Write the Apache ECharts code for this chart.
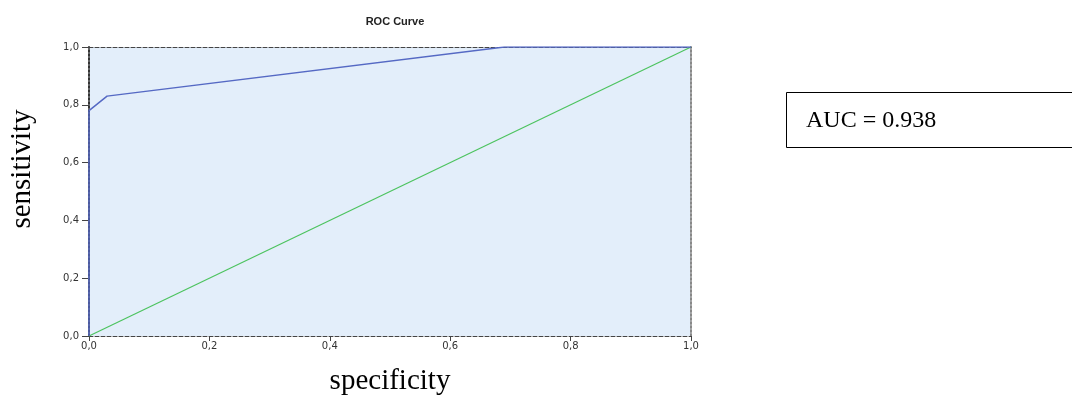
<!DOCTYPE html>
<html><head><meta charset="utf-8">
<script src="https://cdn.jsdelivr.net/npm/echarts@6/dist/echarts.min.js"></script>
<style>html,body{margin:0;padding:0;background:#fff}#c{width:1072px;height:402px}</style>
</head><body><div id="c"></div>
<script>
const rocX = [0, 0, 0.03, 0.69, 1];
const rocY = [0, 0.78, 0.83, 1, 1];
const refX = [0, 1];
const refY = [0, 1];
const tickLabels = ['0,0', '0,2', '0,4', '0,6', '0,8', '1,0'];
const aucText = 'AUC = 0.938';
const xTitle = 'specificity';
const yTitle = 'sensitivity';

const fmt = v => tickLabels[Math.round(v * 5)] || v.toFixed(1).replace('.', ',');
const chart = echarts.init(document.getElementById('c'), null, {renderer: 'canvas'});
const lblStyle = {color: '#333', fontFamily: 'DejaVu Sans, Arial', fontSize: 10};
chart.setOption({
  animation: false,
  title: {text: 'ROC Curve', left: 390, top: 11, textAlign: 'center',
    textStyle: {fontFamily: 'Liberation Sans, Arial', fontWeight: 'bold', fontSize: 11, color: '#222'}},
  grid: {left: 89, right: 381, top: 47, bottom: 66, show: true, backgroundColor: '#e3eefa', borderWidth: 0,
    containLabel: false, outerBoundsMode: 'none'},
  xAxis: [
    {type: 'value', min: 0, max: 1, interval: 0.2, position: 'bottom',
     name: xTitle, nameLocation: 'middle', nameGap: 31,
     nameTextStyle: {fontFamily: 'Liberation Serif, Times New Roman', fontSize: 29, color: '#000'},
     axisLine: {show: true, lineStyle: {color: '#444', type: 'dashed', width: 1}},
     axisTick: {show: true, length: 5, lineStyle: {color: '#444'}},
     axisLabel: Object.assign({margin: 5, formatter: fmt}, lblStyle),
     splitLine: {show: false}},
    {type: 'value', min: 0, max: 1, interval: 0.2, position: 'top',
     axisLine: {show: true, onZero: false, lineStyle: {color: '#444', type: 'dashed', width: 1}},
     axisTick: {show: false}, axisLabel: {show: false}, splitLine: {show: false}}
  ],
  yAxis: [
    {type: 'value', min: 0, max: 1, interval: 0.2, position: 'left',
     axisLine: {show: true, lineStyle: {color: '#333', type: 'dotted', width: 2}},
     axisTick: {show: true, length: 7, lineStyle: {color: '#444'}},
     axisLabel: Object.assign({margin: 10, formatter: fmt}, lblStyle),
     splitLine: {show: false}},
    {type: 'value', min: 0, max: 1, interval: 0.2, position: 'right',
     axisLine: {show: true, onZero: false, lineStyle: {color: '#888', type: 'dotted', width: 2}},
     axisTick: {show: false}, axisLabel: {show: false}, splitLine: {show: false}}
  ],
  series: [
    {type: 'line', data: refX.map((x, i) => [x, refY[i]]), symbol: 'none',
     lineStyle: {color: '#4cc35e', width: 1.2}, z: 3},
    {type: 'line', data: rocX.map((x, i) => [x, rocY[i]]), symbol: 'none',
     lineStyle: {color: '#5569c4', width: 1.5}, z: 4}
  ],
  graphic: [
    {type: 'text', x: 22, y: 169, rotation: Math.PI / 2,
     style: {text: yTitle, fontFamily: 'Liberation Serif, Times New Roman', fontSize: 29, fill: '#000',
       align: 'center', verticalAlign: 'middle'}},
    {type: 'rect', shape: {x: 786.5, y: 92.5, width: 320, height: 55},
     style: {fill: '#fff', stroke: '#000', lineWidth: 1}},
    {type: 'text', x: 806, y: 121,
     style: {text: aucText, fontFamily: 'Liberation Serif, Times New Roman', fontSize: 24, fill: '#000', verticalAlign: 'middle'}}
  ]
});
</script></body></html>
